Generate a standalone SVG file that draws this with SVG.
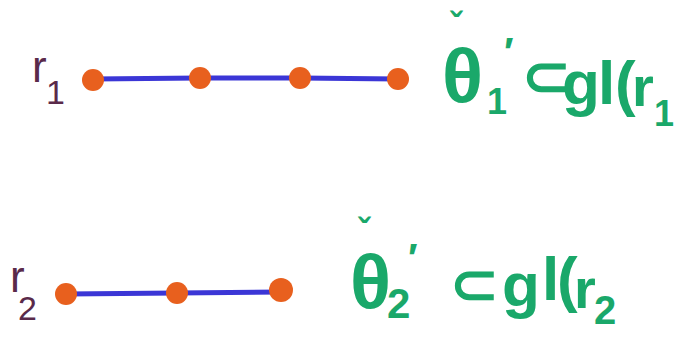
<svg xmlns="http://www.w3.org/2000/svg" width="687" height="349" viewBox="0 0 687 349">
<style>
.edge{stroke:#3b36d6;stroke-width:5;stroke-linecap:round;fill:none}
.dot{fill:#e8601e}
.lab{fill:#5a2a4a;font-family:"Liberation Sans",sans-serif}
.math{fill:#1aa86a;font-family:"Liberation Sans",sans-serif;font-weight:bold}
</style>
<rect width="687" height="349" fill="#ffffff"/>
<g id="connectors">
<path class="edge" d="M93 79 L200 78"/>
<path class="edge" d="M200 78 L300 78"/>
<path class="edge" d="M300 78 L398 79"/>
<path class="edge" d="M66 294 L177 293"/>
<path class="edge" d="M177 293 L281 292"/>
</g>
<g id="n1"><circle class="dot" cx="93" cy="80" r="11"/></g>
<g id="n2"><circle class="dot" cx="200" cy="78" r="11"/></g>
<g id="n3"><circle class="dot" cx="300" cy="78" r="11"/></g>
<g id="n4"><circle class="dot" cx="398" cy="79" r="11"/></g>
<g id="n5"><circle class="dot" cx="66" cy="294" r="11"/></g>
<g id="n6"><circle class="dot" cx="177" cy="293" r="11"/></g>
<g id="n7"><circle class="dot" cx="281" cy="290" r="12"/></g>
<g id="label-r1"><text class="lab" font-size="44"><tspan x="32" y="82">r</tspan><tspan x="46" y="104" font-size="34">1</tspan></text></g>
<g id="label-r2"><text class="lab" font-size="44"><tspan x="10" y="292">r</tspan><tspan x="18" y="320" font-size="34">2</tspan></text></g>
<g id="label-t1"><text class="math" font-size="76"><tspan x="450" y="38" font-size="36">ˇ</tspan><tspan x="442" y="102">θ</tspan><tspan x="487" y="114" font-size="36">1</tspan><tspan x="504" y="66" font-size="40">′</tspan><tspan x="522" y="96" font-size="58">⊂</tspan><tspan x="562" y="104" font-size="62">g</tspan><tspan x="598" y="104" font-size="62">l</tspan><tspan x="615" y="104" font-size="62">(</tspan><tspan x="632" y="106" font-size="56">r</tspan><tspan x="654" y="126" font-size="36">1</tspan></text></g>
<g id="label-t2"><text class="math" font-size="76"><tspan x="358" y="244" font-size="36">ˇ</tspan><tspan x="350" y="308">θ</tspan><tspan x="387" y="318" font-size="42">2</tspan><tspan x="408" y="272" font-size="40">′</tspan><tspan x="450" y="304" font-size="58">⊂</tspan><tspan x="502" y="306" font-size="62">g</tspan><tspan x="542" y="300" font-size="62">l</tspan><tspan x="557" y="300" font-size="62">(</tspan><tspan x="574" y="308" font-size="56">r</tspan><tspan x="594" y="324" font-size="40">2</tspan></text></g>
</svg>
